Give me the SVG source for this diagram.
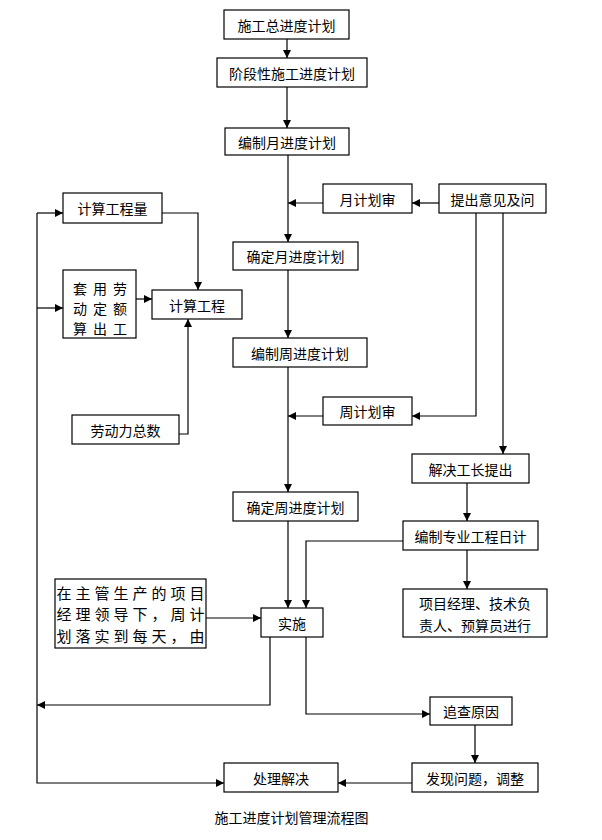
<svg xmlns="http://www.w3.org/2000/svg" width="602" height="840" viewBox="0 0 602 840">
<style>
rect.n{fill:#fff;stroke:#000;stroke-width:1.2}
text{font-family:"Noto Sans CJK SC","Liberation Sans",sans-serif;font-size:14px;fill:#000;text-anchor:middle;dominant-baseline:central}
text.big{font-size:15px;letter-spacing:4px}
.c path{fill:none;stroke:#000;stroke-width:1.2}
</style>
<defs>
<marker id="a" markerUnits="userSpaceOnUse" markerWidth="10" markerHeight="10" refX="8" refY="4" orient="auto">
<path d="M0,0 L8,4 L0,8 Z" fill="#000"/>
</marker>
</defs>
<rect width="602" height="840" fill="#fff"/>
<g class="c">
<path d="M287,39 V58" marker-end="url(#a)"/>
<path d="M287,87 V128" marker-end="url(#a)"/>
<path d="M288,155 V242" marker-end="url(#a)"/>
<path d="M439,203 H412" marker-end="url(#a)"/>
<path d="M323,203 H288" marker-end="url(#a)"/>
<path d="M288,270 V338" marker-end="url(#a)"/>
<path d="M288,367 V492" marker-end="url(#a)"/>
<path d="M476,213 V416 H412" marker-end="url(#a)"/>
<path d="M323,416 H288" marker-end="url(#a)"/>
<path d="M503,213 V454" marker-end="url(#a)"/>
<path d="M467,483 V521" marker-end="url(#a)"/>
<path d="M467,550 V589" marker-end="url(#a)"/>
<path d="M403,541 H306 V608" marker-end="url(#a)"/>
<path d="M288,521 V608" marker-end="url(#a)"/>
<path d="M206,618 H261" marker-end="url(#a)"/>
<path d="M270,637 V705 H37" marker-end="url(#a)"/>
<path d="M306,637 V714 H430" marker-end="url(#a)"/>
<path d="M475,725 V763" marker-end="url(#a)"/>
<path d="M412,783 H338" marker-end="url(#a)"/>
<path d="M37,213 H63" marker-end="url(#a)"/>
<path d="M37,308 H63" marker-end="url(#a)"/>
<path d="M37,213 V783 H224" marker-end="url(#a)"/>
<path d="M162,213 H198 V290" marker-end="url(#a)"/>
<path d="M136,299 H152" marker-end="url(#a)"/>
<path d="M179,434 H188 V319" marker-end="url(#a)"/>
</g>
<g id="n1"><rect class="n" x="224" y="10" width="125" height="29"/><text x="286.5" y="24.5">施工总进度计划</text></g>
<g id="n2"><rect class="n" x="217" y="58" width="150" height="29"/><text x="292" y="72.5">阶段性施工进度计划</text></g>
<g id="n3"><rect class="n" x="225" y="128" width="124" height="27"/><text x="287" y="141.5">编制月进度计划</text></g>
<g id="n4"><rect class="n" x="233" y="242" width="125" height="28"/><text x="295.5" y="256">确定月进度计划</text></g>
<g id="n5"><rect class="n" x="233" y="338" width="134" height="29"/><text x="300" y="352.5">编制周进度计划</text></g>
<g id="n6"><rect class="n" x="233" y="492" width="125" height="29"/><text x="295.5" y="506.5">确定周进度计划</text></g>
<g id="n7"><rect class="n" x="261" y="608" width="62" height="29"/><text x="292" y="622.5">实施</text></g>
<g id="n8"><rect class="n" x="323" y="184" width="89" height="29"/><text x="367.5" y="198.5">月计划审</text></g>
<g id="n9"><rect class="n" x="439" y="184" width="107" height="29"/><text x="492.5" y="198.5">提出意见及问</text></g>
<g id="n10"><rect class="n" x="323" y="397" width="89" height="28"/><text x="367.5" y="411">周计划审</text></g>
<g id="n11"><rect class="n" x="412" y="454" width="117" height="29"/><text x="470.5" y="468.5">解决工长提出</text></g>
<g id="n12"><rect class="n" x="403" y="521" width="135" height="29"/><text x="470.5" y="535.5">编制专业工程日计</text></g>
<g id="n13"><rect class="n" x="403" y="589" width="144" height="48"/><text x="475" y="603">项目经理、技术负</text><text x="475" y="625">责人、预算员进行</text></g>
<g id="n14"><rect class="n" x="430" y="697" width="82" height="28"/><text x="471" y="711">追查原因</text></g>
<g id="n15"><rect class="n" x="412" y="763" width="126" height="29"/><text x="475" y="777.5">发现问题，调整</text></g>
<g id="n16"><rect class="n" x="224" y="763" width="114" height="29"/><text x="281" y="777.5">处理解决</text></g>
<g id="n17"><rect class="n" x="63" y="193" width="99" height="30"/><text x="112.5" y="208">计算工程量</text></g>
<g id="n18"><rect class="n" x="63" y="270" width="73" height="68"/>
<text x="80" y="288">套</text><text x="100" y="288">用</text><text x="120" y="288">劳</text>
<text x="80" y="308">动</text><text x="100" y="308">定</text><text x="120" y="308">额</text>
<text x="80" y="328">算</text><text x="100" y="328">出</text><text x="120" y="328">工</text></g>
<g id="n19"><rect class="n" x="152" y="290" width="90" height="29"/><text x="197" y="304.5">计算工程</text></g>
<g id="n20"><rect class="n" x="72" y="415" width="107" height="29"/><text x="125.5" y="429.5">劳动力总数</text></g>
<g id="n21"><rect class="n" x="55" y="579" width="151" height="69"/>
<text class="big" x="132.5" y="592">在主管生产的项目</text>
<text class="big" x="132.5" y="613.5">经理领导下，周计</text>
<text class="big" x="132.5" y="635">划落实到每天，由</text></g>
<text x="291.5" y="817">施工进度计划管理流程图</text>
</svg>
